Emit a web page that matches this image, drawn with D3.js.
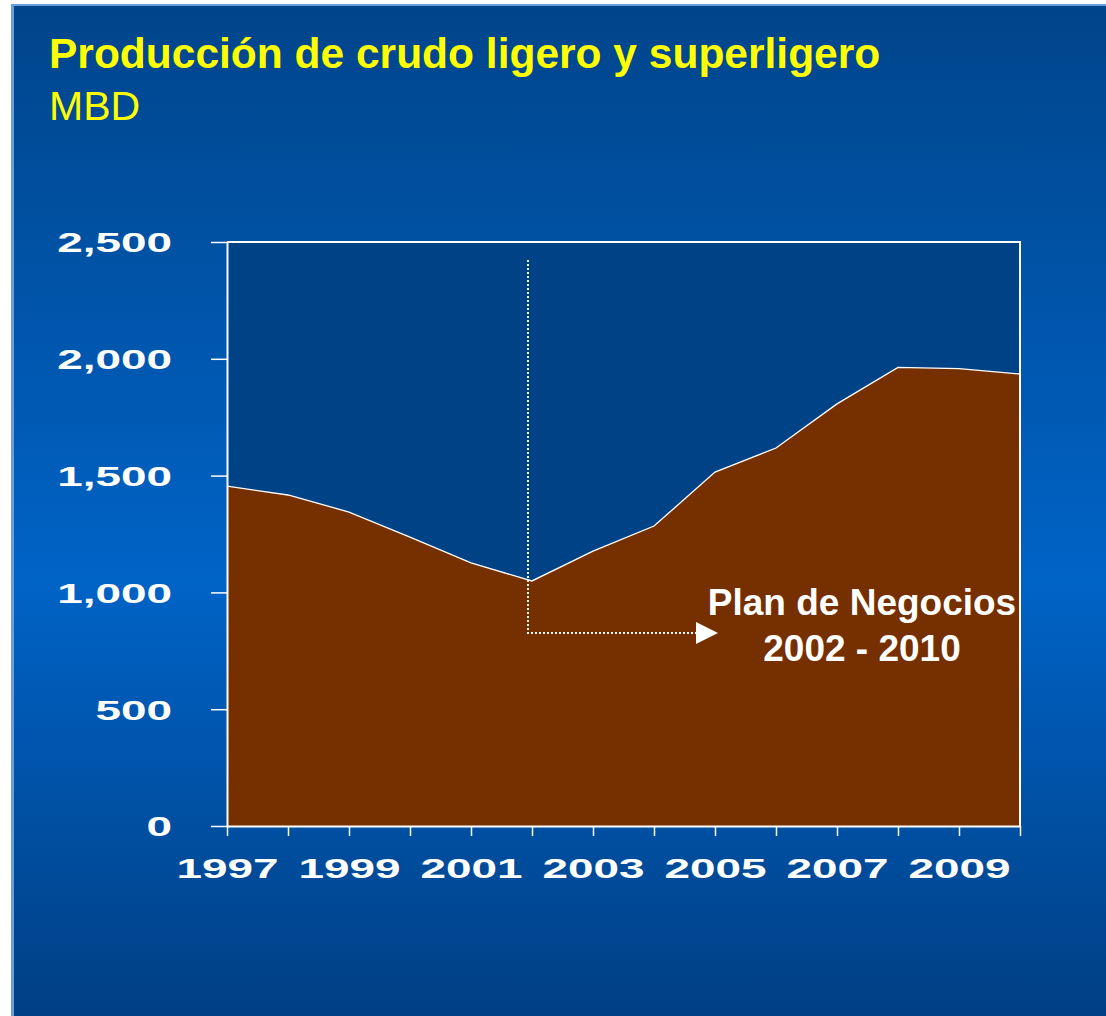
<!DOCTYPE html>
<html>
<head>
<meta charset="utf-8">
<script src="https://cdn.jsdelivr.net/npm/d3@7"></script>
<style>
  body { margin: 0; background: #fff; }
  svg { display: block; font-family: "Liberation Sans", Arial, sans-serif; }
</style>
</head>
<body>
<div id="chart"></div>
<script>
// Data (MBD = miles de barriles diarios)
const years = [1997, 1998, 1999, 2000, 2001, 2002, 2003, 2004, 2005, 2006, 2007, 2008, 2009, 2010];
const production = [1455, 1417, 1344, 1237, 1126, 1049, 1177, 1284, 1515, 1618, 1807, 1963, 1958, 1935];
const yTicks = [0, 500, 1000, 1500, 2000, 2500];
const xLabelYears = [1997, 1999, 2001, 2003, 2005, 2007, 2009];
const planStart = 2002;
const planLabel = ["Plan de Negocios", "2002 - 2010"];

const width = 1106;
const height = 1016;
const plot = { left: 227, right: 1020, top: 242, bottom: 826 };
const stretch = 1.64; // tick labels are drawn in a wide face

const svg = d3.select("#chart")
    .append("svg")
    .attr("width", width)
    .attr("height", height);

// Slide background: vertical blue gradient
const defs = svg.append("defs");
const grad = defs.append("linearGradient")
    .attr("id", "bg")
    .attr("x1", 0).attr("y1", 0).attr("x2", 0).attr("y2", 1);
grad.append("stop").attr("offset", "0%").attr("stop-color", "#00458b");
grad.append("stop").attr("offset", "57%").attr("stop-color", "#0063c6");
grad.append("stop").attr("offset", "100%").attr("stop-color", "#003f84");

svg.append("rect")
    .attr("x", 11).attr("y", 4)
    .attr("width", width - 11).attr("height", height - 4)
    .attr("fill", "#6a9edb");
svg.append("rect")
    .attr("x", 14).attr("y", 6)
    .attr("width", width - 14).attr("height", height - 6)
    .attr("fill", "url(#bg)");

// Title
svg.append("text")
    .attr("x", 49)
    .attr("y", 68)
    .attr("fill", "#ffff00")
    .attr("font-size", "42.5px")
    .attr("font-weight", "bold")
    .text("Producción de crudo ligero y superligero");

svg.append("text")
    .attr("x", 49)
    .attr("y", 120)
    .attr("fill", "#ffff00")
    .attr("font-size", "41px")
    .text("MBD");

// Scales
const x = d3.scaleLinear()
    .domain([d3.min(years), d3.max(years)])
    .range([plot.left, plot.right]);

const y = d3.scaleLinear()
    .domain([0, 2500])
    .range([plot.bottom, plot.top]);

// Plot background
svg.append("rect")
    .attr("x", plot.left)
    .attr("y", plot.top)
    .attr("width", plot.right - plot.left)
    .attr("height", plot.bottom - plot.top)
    .attr("fill", "#004286");

// Area
const rows = years.map((yr, i) => ({ year: yr, value: production[i] }));

svg.append("path")
    .datum(rows)
    .attr("fill", "#763000")
    .attr("d", d3.area()
        .x(d => x(d.year))
        .y0(y(0))
        .y1(d => y(d.value)));

svg.append("path")
    .datum(rows)
    .attr("fill", "none")
    .attr("stroke", "#ffffff")
    .attr("stroke-width", 1.3)
    .attr("d", d3.line()
        .x(d => x(d.year))
        .y(d => y(d.value)));

// Frame (top and right)
svg.append("path")
    .attr("fill", "none")
    .attr("stroke", "#ffffff")
    .attr("stroke-width", 2)
    .attr("d", `M${plot.left},${plot.top}H${plot.right}V${plot.bottom}`);

// Y axis
const yAxis = svg.append("g")
    .attr("transform", `translate(${plot.left}, 0)`)
    .call(d3.axisLeft(y)
        .tickValues(yTicks)
        .tickFormat(d3.format(","))
        .tickSize(16)
        .tickSizeOuter(0));

yAxis.select(".domain").attr("stroke", "#fff").attr("stroke-width", 2);
yAxis.selectAll(".tick line").attr("stroke", "#fff").attr("stroke-width", 1.5);
yAxis.selectAll(".tick text")
    .attr("fill", "#fff")
    .attr("font-size", "28px")
    .attr("font-weight", "bold")
    .attr("font-family", "'Liberation Sans', Arial, sans-serif")
    .attr("x", -55 / stretch)
    .attr("dy", "0.35em")
    .attr("transform", `scale(${stretch},1)`);

// X axis
const xAxis = svg.append("g")
    .attr("transform", `translate(0, ${plot.bottom})`)
    .call(d3.axisBottom(x)
        .tickValues(years)
        .tickFormat(d => xLabelYears.includes(d) ? d : "")
        .tickSize(10)
        .tickSizeOuter(0));

xAxis.select(".domain").attr("stroke", "#fff").attr("stroke-width", 2);
xAxis.selectAll(".tick line").attr("stroke", "#fff").attr("stroke-width", 1.5);
xAxis.selectAll(".tick text")
    .attr("fill", "#fff")
    .attr("font-size", "28px")
    .attr("font-weight", "bold")
    .attr("font-family", "'Liberation Sans', Arial, sans-serif")
    .attr("y", 52)
    .attr("dy", 0)
    .attr("transform", `scale(${stretch},1)`);

// Plan de Negocios marker
const px = x(planStart) - 4;
const arrowY = 633;
svg.append("path")
    .attr("fill", "none")
    .attr("stroke", "#fff")
    .attr("stroke-width", 2)
    .attr("stroke-dasharray", "2,2")
    .attr("d", `M${px},260V${arrowY}H696`);

svg.append("path")
    .attr("fill", "#fff")
    .attr("d", `M696,${arrowY - 11}L718,${arrowY}L696,${arrowY + 11}Z`);

svg.selectAll(".plan-label")
    .data(planLabel)
    .enter()
    .append("text")
    .attr("class", "plan-label")
    .attr("x", 862)
    .attr("y", (d, i) => 615 + i * 46)
    .attr("text-anchor", "middle")
    .attr("fill", "#fff")
    .attr("font-size", "37px")
    .attr("font-weight", "bold")
    .text(d => d);
</script>
</body>
</html>
